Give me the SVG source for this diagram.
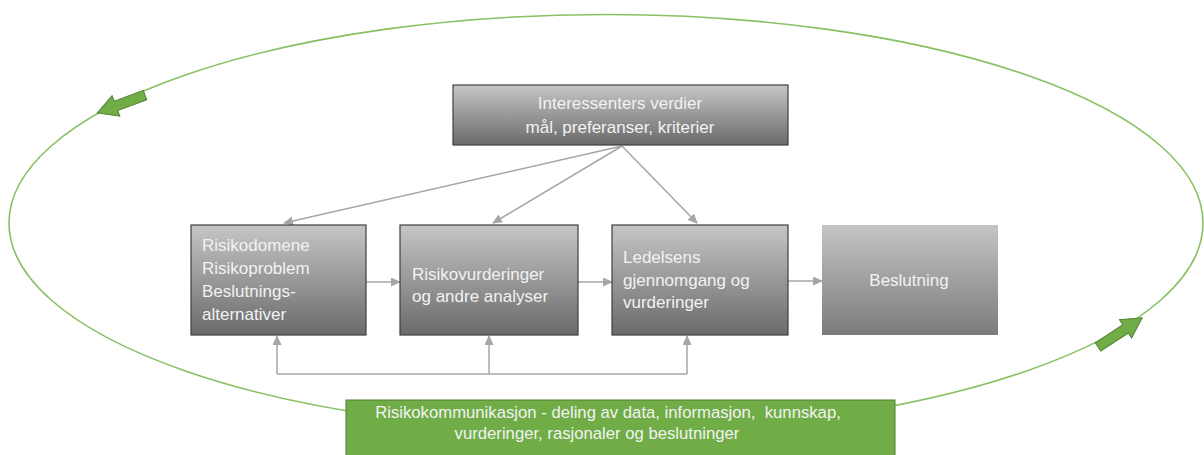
<svg xmlns="http://www.w3.org/2000/svg" width="1204" height="455" viewBox="0 0 1204 455">
  <defs>
    <linearGradient id="gradBox" x1="0" y1="0" x2="0" y2="1">
      <stop offset="0" stop-color="#c6c6c6"/>
      <stop offset="1" stop-color="#6a6a6a"/>
    </linearGradient>
    <linearGradient id="gradPlain" x1="0" y1="0" x2="0" y2="1">
      <stop offset="0" stop-color="#c4c4c4"/>
      <stop offset="1" stop-color="#7b7b7b"/>
    </linearGradient>
    <marker id="head" markerUnits="userSpaceOnUse" markerWidth="10" markerHeight="9" refX="9" refY="4.5" orient="auto">
      <path d="M0,0 L10,4.5 L0,9 Z" fill="#a6a6a6"/>
    </marker>
  </defs>
  <style>
    .box { fill: url(#gradBox); stroke: #3f3f3f; stroke-width: 1.2; }
    .plain { fill: url(#gradPlain); }
    .lbl { font-family: "Liberation Sans", Arial, sans-serif; font-size: 17px; fill: #f2f2f2; }
    .note { font-size: 16.7px; }
    .conn { fill: none; stroke: #a6a6a6; stroke-width: 1.5; }
    .loop { fill: none; stroke: #88c063; stroke-width: 1.6; }
    .block { fill: #70ad47; stroke: #548235; stroke-width: 1; }
    .comm { fill: #70ad47; stroke: #507e32; stroke-width: 1; }
  </style>

  <rect width="1204" height="455" fill="#ffffff"/>

  <!-- communication loop around the process -->
  <g id="loop">
    <ellipse class="loop" cx="606" cy="223" rx="597" ry="208.5"/>
    <polygon class="block" transform="translate(145,95) rotate(159.4)" points="0,-5 31,-5 31,-11 51,0 31,11 31,5 0,5"/>
    <polygon class="block" transform="translate(1098,347) rotate(-33.4)" points="0,-5 33,-5 33,-11 53,0 33,11 33,5 0,5"/>
  </g>

  <!-- connectors -->
  <g id="connectors">
    <line class="conn" x1="622" y1="146" x2="284" y2="223" marker-end="url(#head)"/>
    <line class="conn" x1="622" y1="146" x2="493" y2="223" marker-end="url(#head)"/>
    <line class="conn" x1="622" y1="146" x2="697" y2="223" marker-end="url(#head)"/>
    <line class="conn" x1="366" y1="282" x2="400" y2="282" marker-end="url(#head)"/>
    <line class="conn" x1="578" y1="282" x2="612" y2="282" marker-end="url(#head)"/>
    <line class="conn" x1="788" y1="281" x2="822" y2="281" marker-end="url(#head)"/>
    <polyline class="conn" stroke-width="2" points="277,374 687,374"/>
    <line class="conn" stroke-width="2" x1="277" y1="374" x2="277" y2="336" marker-end="url(#head)"/>
    <line class="conn" stroke-width="2" x1="489" y1="374" x2="489" y2="336" marker-end="url(#head)"/>
    <line class="conn" stroke-width="2" x1="687" y1="374" x2="687" y2="336" marker-end="url(#head)"/>
  </g>

  <g id="interessenter">
    <rect class="box" x="453" y="85" width="335" height="60"/>
    <text class="lbl" x="620" y="109" text-anchor="middle">Interessenters verdier</text>
    <text class="lbl" x="620" y="133" text-anchor="middle">mål, preferanser, kriterier</text>
  </g>

  <g id="risikodomene">
    <rect class="box" x="191" y="225" width="175" height="110"/>
    <text class="lbl" x="202" y="251">Risikodomene</text>
    <text class="lbl" x="202" y="274">Risikoproblem</text>
    <text class="lbl" x="202" y="297">Beslutnings-</text>
    <text class="lbl" x="202" y="320">alternativer</text>
  </g>

  <g id="risikovurderinger">
    <rect class="box" x="400" y="225" width="178" height="110"/>
    <text class="lbl" x="412" y="280">Risikovurderinger</text>
    <text class="lbl" x="412" y="302">og andre analyser</text>
  </g>

  <g id="ledelsens">
    <rect class="box" x="612" y="225" width="176" height="110"/>
    <text class="lbl" x="623" y="263">Ledelsens</text>
    <text class="lbl" x="623" y="286">gjennomgang og</text>
    <text class="lbl" x="623" y="308">vurderinger</text>
  </g>

  <g id="beslutning">
    <rect class="plain" x="822" y="225" width="176" height="110"/>
    <text class="lbl" x="909" y="286" text-anchor="middle">Beslutning</text>
  </g>

  <g id="kommunikasjon">
    <rect class="comm" x="346" y="400" width="549" height="56"/>
    <text class="lbl note" x="608" y="418" text-anchor="middle" style="white-space:pre">Risikokommunikasjon - deling av data, informasjon,  kunnskap,</text>
    <text class="lbl note" x="597" y="439" text-anchor="middle">vurderinger, rasjonaler og beslutninger</text>
  </g>
</svg>
